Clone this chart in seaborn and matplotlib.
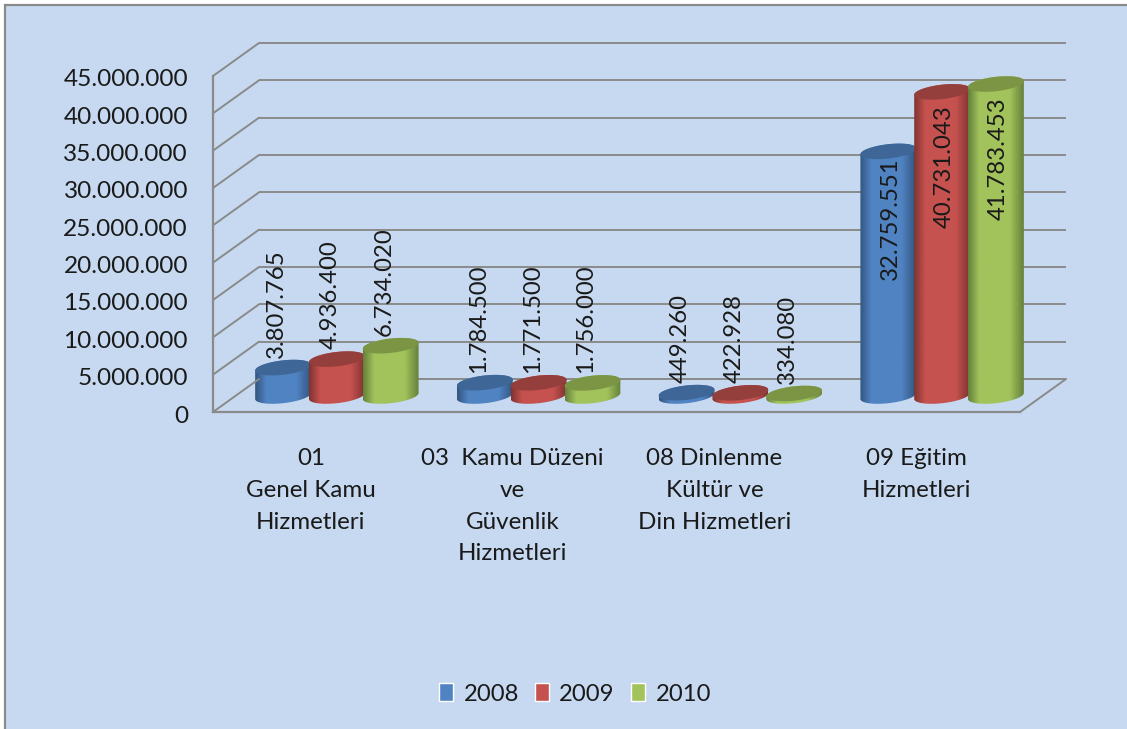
import pandas as pd
import numpy as np
import matplotlib
matplotlib.use('Agg')
import matplotlib.pyplot as plt
from matplotlib.colors import LinearSegmentedColormap
from matplotlib.patches import ConnectionPatch, Polygon, Rectangle
from matplotlib.transforms import ScaledTranslation
import seaborn as sns

# Chart values
categories = ['01\nGenel Kamu\nHizmetleri',
              '03  Kamu Düzeni\nve\nGüvenlik\nHizmetleri',
              '08 Dinlenme\nKültür ve\nDin Hizmetleri',
              '09 Eğitim\nHizmetleri']
years = ['2008', '2009', '2010']
values_2008 = [3807765, 1784500, 449260, 32759551]
values_2009 = [4936400, 1771500, 422928, 40731043]
values_2010 = [6734020, 1756000, 334080, 41783453]
y_ticks = [0, 5000000, 10000000, 15000000, 20000000, 25000000, 30000000, 35000000, 40000000, 45000000]

W, H = 1127, 729
Y_MAX = 45000000
PX_PER_UNIT = 336 / Y_MAX
GRID = '#8a8a8a'
TEXT = '#1a1a1a'
BG = '#c6d9f0'
base_colors = ['#5083c2', '#c6524f', '#a2c35c']
edge_colors = ['#33557f', '#7f3331', '#65803a']
top_colors = ['#3e6797', '#953f3c', '#7b9544']


def dotted(v):
    return f'{v:,}'.replace(',', '.')


def box(left, top, right, bottom):
    return [left / W, 1 - bottom / H, (right - left) / W, (bottom - top) / H]


sns.set_theme(style='white')
plt.rcParams['font.family'] = ['Lato', 'DejaVu Sans']

fig = plt.figure(figsize=(W / 100, H / 100), dpi=100, facecolor='white')
fig.patches.append(Rectangle((5 / W, -0.01), 1.1, 1 - 5 / H + 0.01, transform=fig.transFigure,
                             facecolor=BG, edgecolor=GRID, linewidth=1.6, figure=fig, zorder=-1))

# back wall
ax_back = fig.add_axes(box(259, 43, 1066, 379))
ax_back.set_xlim(-0.5, 3.5)
ax_back.set_ylim(0, Y_MAX)
ax_back.axis('off')
ax_back.hlines(y_ticks, -0.5, 3.5, color=GRID, linewidth=1.4, clip_on=False)

# front plane, carries the axis labels
ax_front = fig.add_axes(box(213, 76, 1020, 412))
ax_front.patch.set_alpha(0)
ax_front.set_xlim(-0.5, 3.5)
ax_front.set_ylim(0, Y_MAX)
for side in ['top', 'right']:
    ax_front.spines[side].set_visible(False)
for side in ['left', 'bottom']:
    ax_front.spines[side].set_color(GRID)
    ax_front.spines[side].set_linewidth(1.6)
ax_front.set_yticks(y_ticks)
ax_front.set_yticklabels([dotted(t) for t in y_ticks], fontsize=17.6, color=TEXT)
ax_front.set_xticks(range(len(categories)))
ax_front.set_xticklabels(categories, fontsize=17.4, color=TEXT, linespacing=1.63)
ax_front.tick_params(axis='y', length=0, pad=18)
ax_front.tick_params(axis='x', length=0, pad=26)

# small nudges of the tick texts, in pixels
nudge_y = ScaledTranslation(0, -2 / 100, fig.dpi_scale_trans)
nudge_x = ScaledTranslation(-3 / 100, 0, fig.dpi_scale_trans)
for label in ax_front.get_yticklabels():
    label.set_transform(label.get_transform() + nudge_y)
for label in ax_front.get_xticklabels():
    label.set_transform(label.get_transform() + nudge_x)

for t in y_ticks:
    fig.add_artist(ConnectionPatch((-0.5, t), (-0.5, t), coordsA=ax_front.transData,
                                   coordsB=ax_back.transData, color=GRID, linewidth=1.4))
fig.add_artist(ConnectionPatch((3.5, 0), (3.5, 0), coordsA=ax_front.transData,
                               coordsB=ax_back.transData, color=GRID, linewidth=1.4))

# bars, on a plane halfway between the front and the back
df = pd.DataFrame({'Kategori': categories, '2008': values_2008, '2009': values_2009, '2010': values_2010})
df = df.melt(id_vars='Kategori', var_name='Yil', value_name='Deger')

ax = fig.add_axes(box(236, 60, 1043, 418))
ax.patch.set_alpha(0)
sns.barplot(data=df, x='Kategori', y='Deger', hue='Yil', palette=base_colors, saturation=1,
            width=0.8, ax=ax)
ax.set_xlim(-0.5, 3.5)
y_bottom = -22 / PX_PER_UNIT
ax.set_ylim(y_bottom, Y_MAX)
ax.axis('off')

px_x = 4 / 807
px_y = 1 / PX_PER_UNIT
t_top = np.linspace(0, np.pi, 60)
t_low = np.linspace(np.pi, 2 * np.pi, 60)


def rim(cx, cy, half, t):
    xs = cx + half * np.cos(t)
    ys = cy + (7.2 * np.sin(t) + 3.0 * np.cos(t)) * px_y
    return np.column_stack([xs, ys])


for i, container in enumerate(ax.containers):
    cmap = LinearSegmentedColormap.from_list(
        f'cyl{i}', [(0, edge_colors[i]), (0.2, base_colors[i]), (0.75, base_colors[i]), (1, edge_colors[i])])
    zo = 5 + i
    for bar in container:
        h = bar.get_height()
        cx = bar.get_x() + bar.get_width() / 2
        half = bar.get_width() / 2 + 1 * px_x
        bar.set_visible(False)
        outline = np.vstack([rim(cx, 0, half, t_low), rim(cx, h, half, t_top)])
        body = Polygon(outline, closed=True, facecolor='none', edgecolor='none', zorder=zo)
        ax.add_patch(body)
        im = ax.imshow(np.linspace(0, 1, 128)[None, :], extent=[cx - half, cx + half, y_bottom, h + 12 * px_y],
                       aspect='auto', cmap=cmap, zorder=zo, interpolation='bilinear')
        im.set_clip_path(body)
        ax.add_patch(Polygon(rim(cx, h, half, np.linspace(0, 2 * np.pi, 120)), closed=True,
                             facecolor=top_colors[i], edgecolor='none', zorder=zo + 0.1))
        # labels
        big = h > 30000000
        if big:
            gap = -6 if i == 0 else -13
            xytext, va = (2 * 0.72, gap * 0.72), 'top'
        else:
            xytext, va = (-6.5 * 0.72, 10 * 0.72), 'bottom'
        ax.annotate(dotted(int(h)), (cx, h), xytext=xytext, textcoords='offset points',
                    rotation=90, ha='center', va=va, fontsize=17.2, color=TEXT, zorder=20)

ax.set_xlim(-0.5, 3.5)
ax.set_ylim(y_bottom, Y_MAX)

sns.move_legend(ax, 'center', bbox_to_anchor=(575 / W, 1 - 694 / H), bbox_transform=fig.transFigure,
                ncol=3, frameon=False, title=None, fontsize=17.2, labelcolor=TEXT,
                handlelength=0.6, handleheight=0.75, handletextpad=0.42, columnspacing=0.68)

plt.savefig('out.png', dpi=100, facecolor='white')
plt.close()
